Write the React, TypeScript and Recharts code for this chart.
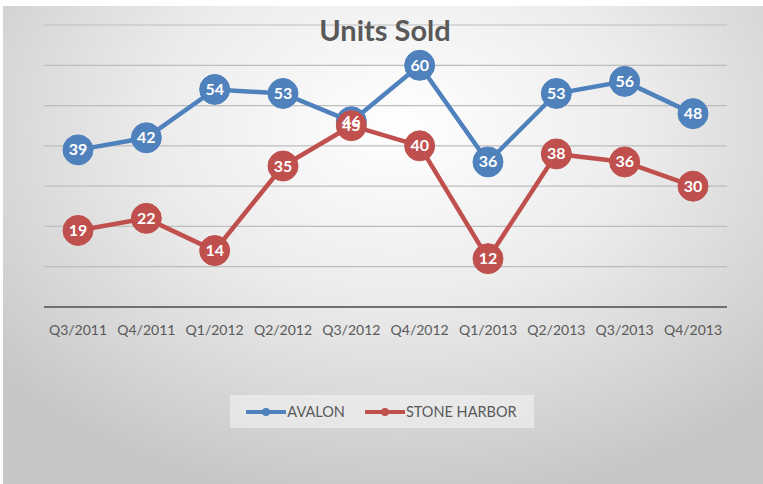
import React from 'react';
import { LineChart, Line, XAxis, YAxis, CartesianGrid, Legend } from 'recharts';

const quarters = ['Q3/2011', 'Q4/2011', 'Q1/2012', 'Q2/2012', 'Q3/2012', 'Q4/2012', 'Q1/2013', 'Q2/2013', 'Q3/2013', 'Q4/2013'];
const avalon = [39, 42, 54, 53, 46, 60, 36, 53, 56, 48];
const stoneHarbor = [19, 22, 14, 35, 45, 40, 12, 38, 36, 30];
const yTicks = [0, 10, 20, 30, 40, 50, 60, 70];

const BLUE = '#4F81BD';
const RED = '#C0504D';
const TEXT = '#595959';
const FONT = 'Lato, "Open Sans", sans-serif';

const data = quarters.map((q, i) => ({ quarter: q, avalon: avalon[i], stone: stoneHarbor[i] }));

// white value inside each marker
const markerLabel = ({ x, y, value }: any) => (
    <text x={x} y={y} dy={5.5} textAnchor="middle" fill="#fff" fontSize={16} fontWeight={700} fontFamily={FONT}>
        {value}
    </text>
);

const LegendBox = () => {
    const items = [
        { name: 'AVALON', color: BLUE },
        { name: 'STONE HARBOR', color: RED }
    ];
    return (
        <div style={{ display: 'flex', justifyContent: 'center', transform: 'translateX(-4px)' }}>
            <div style={{
                height: 33,
                width: 304,
                boxSizing: 'border-box',
                background: 'rgba(245,245,245,0.55)',
                display: 'flex',
                alignItems: 'center',
                justifyContent: 'center',
                gap: 20
            }}>
                {items.map((it) => (
                    <div key={it.name} style={{ display: 'flex', alignItems: 'center' }}>
                        <svg width={40} height={10}>
                            <line x1={1} y1={5} x2={39} y2={5} stroke={it.color} strokeWidth={4} strokeLinecap="round" />
                            <circle cx={20} cy={5} r={4} fill={it.color} />
                        </svg>
                        <span style={{ fontFamily: FONT, fontSize: 14.5, color: TEXT, marginLeft: 1 }}>{it.name}</span>
                    </div>
                ))}
            </div>
        </div>
    );
};

const App: React.FC = () => {
    return (
        <div style={{ position: 'relative', width: 763, height: 484, background: '#fff', overflow: 'hidden' }}>
            <style>{'body{margin:0}'}</style>
            <div style={{
                position: 'absolute',
                left: 3,
                top: 6,
                width: 760,
                height: 478,
                background: 'radial-gradient(ellipse 70% 80% at 52% 25%, #ffffff 0%, #ececec 45%, #c6c6c6 100%)'
            }}>
                <LineChart
                    width={760}
                    height={478}
                    data={data}
                    margin={{ top: 19, right: 36, left: 41, bottom: 56 }}
                >
                    <CartesianGrid vertical={false} stroke="#bdbdbd" strokeWidth={1.2} />
                    <YAxis hide domain={[0, 70]} ticks={yTicks} />
                    <XAxis
                        dataKey="quarter"
                        height={88}
                        padding={{ left: 34, right: 34 }}
                        axisLine={{ stroke: '#707070', strokeWidth: 2.2 }}
                        tickLine={false}
                        tickMargin={12}
                        interval={0}
                        tick={{ fill: TEXT, fontSize: 14, fontFamily: FONT }}
                    />
                    <Legend verticalAlign="bottom" content={<LegendBox />} />
                    <Line
                        dataKey="avalon"
                        name="AVALON"
                        stroke={BLUE}
                        strokeWidth={4.5}
                        dot={{ r: 15, fill: BLUE, stroke: BLUE, strokeWidth: 1 }}
                        activeDot={false}
                        label={markerLabel}
                        isAnimationActive={false}
                    />
                    <Line
                        dataKey="stone"
                        name="STONE HARBOR"
                        stroke={RED}
                        strokeWidth={4.5}
                        dot={{ r: 15, fill: RED, stroke: RED, strokeWidth: 1 }}
                        activeDot={false}
                        label={markerLabel}
                        isAnimationActive={false}
                    />
                </LineChart>
                <div style={{
                    position: 'absolute',
                    top: 6,
                    left: 0,
                    width: 760,
                    textAlign: 'center',
                    transform: 'translateX(2px)',
                    fontFamily: FONT,
                    fontWeight: 700,
                    fontSize: 29,
                    color: TEXT,
                    pointerEvents: 'none'
                }}>
                    Units Sold
                </div>
            </div>
        </div>
    );
};

export default App;
